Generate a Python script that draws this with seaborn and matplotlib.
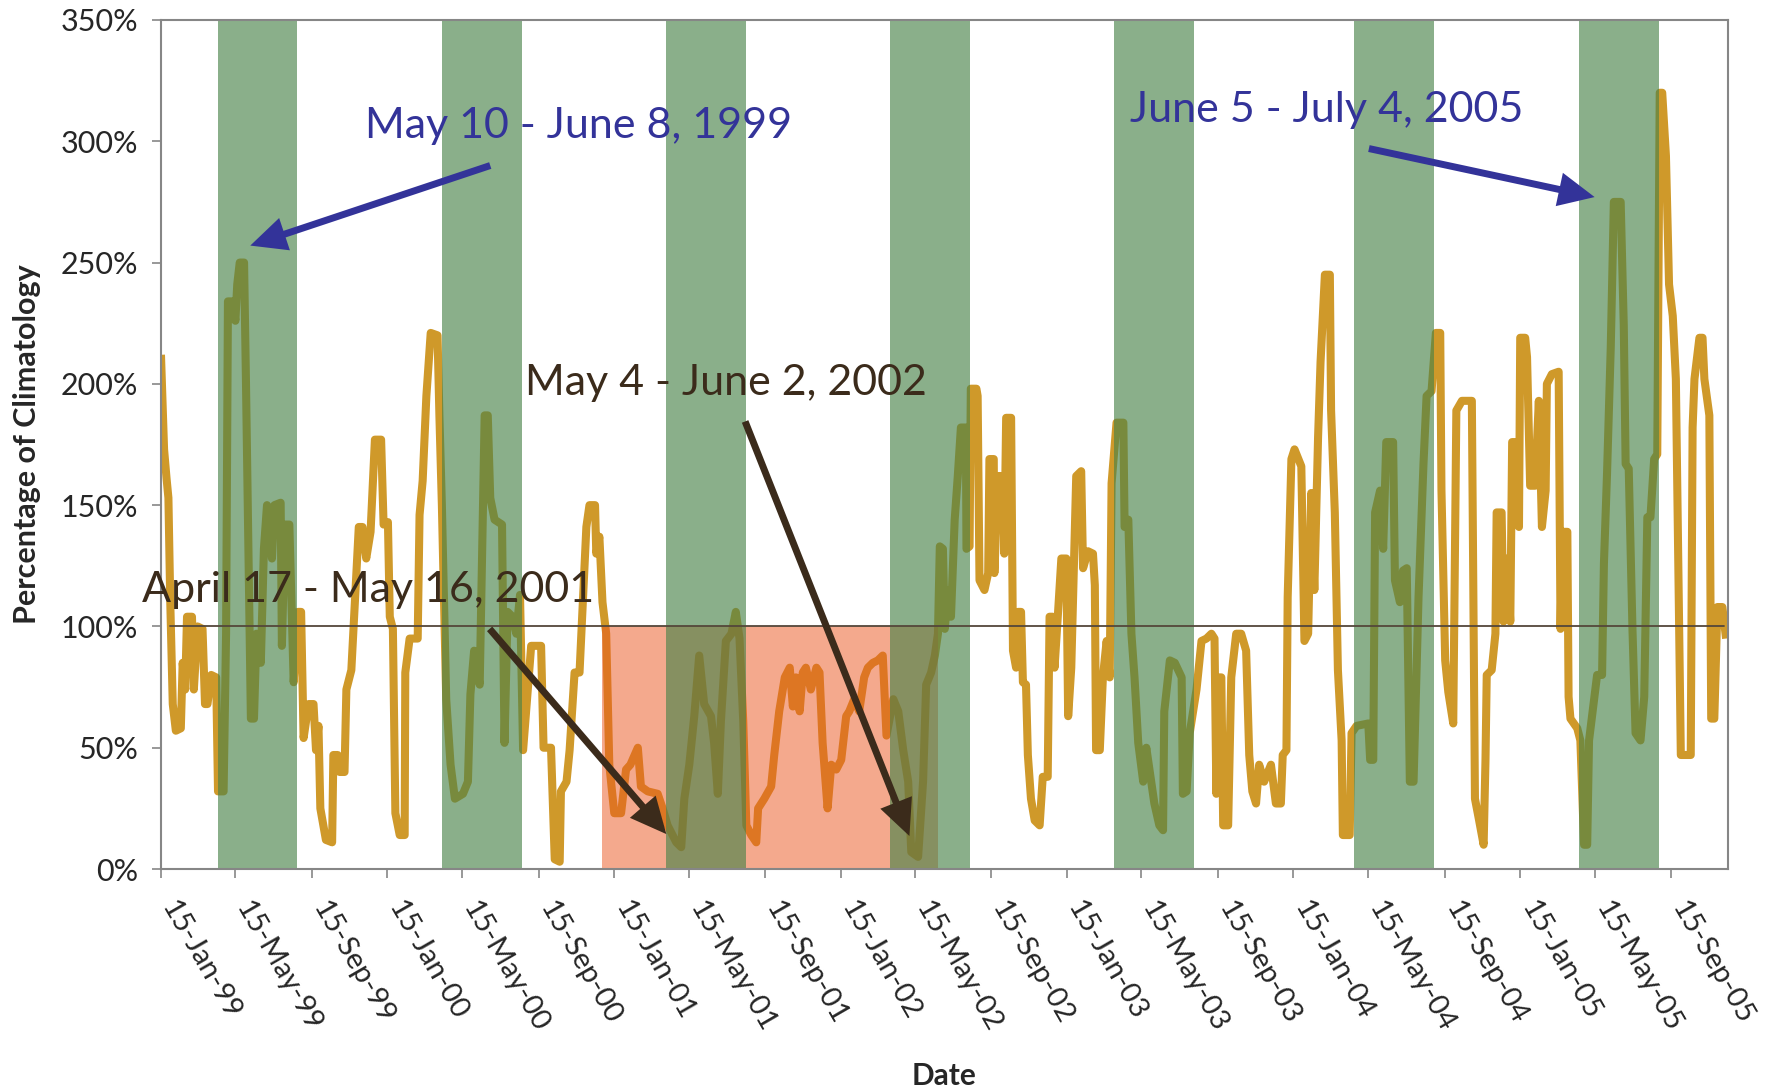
import pandas as pd
import matplotlib
matplotlib.use("Agg")
import matplotlib.pyplot as plt
import matplotlib.dates as mdates
from matplotlib.ticker import FuncFormatter
import seaborn as sns

# ---- 30-day precipitation as percentage of climatology ----
dates = [
    "1999-01-15", "1999-01-20", "1999-01-24", "1999-01-27", "1999-01-30", "1999-02-03", "1999-02-08",
    "1999-02-16", "1999-02-19", "1999-02-23", "1999-02-26", "1999-03-06", "1999-03-09", "1999-03-15",
    "1999-03-23", "1999-03-27", "1999-03-31", "1999-04-06", "1999-04-14", "1999-04-17", "1999-04-26",
    "1999-04-30", "1999-05-03", "1999-05-11", "1999-05-15", "1999-05-18", "1999-05-22", "1999-05-29",
    "1999-06-01", "1999-06-09", "1999-06-14", "1999-06-18", "1999-06-25", "1999-06-30", "1999-07-05",
    "1999-07-13", "1999-07-17", "1999-07-27", "1999-07-29", "1999-08-03", "1999-08-10", "1999-08-17",
    "1999-08-24", "1999-08-29", "1999-09-02", "1999-09-10", "1999-09-18", "1999-09-22", "1999-09-26",
    "1999-09-29", "1999-10-08", "1999-10-18", "1999-10-20", "1999-10-27", "1999-10-30", "1999-11-07",
    "1999-11-10", "1999-11-18", "1999-11-30", "1999-12-06", "1999-12-12", "1999-12-19", "1999-12-26",
    "2000-01-05", "2000-01-09", "2000-01-16", "2000-01-19", "2000-01-24", "2000-01-28", "2000-02-04",
    "2000-02-12", "2000-02-13", "2000-02-20", "2000-03-04", "2000-03-07", "2000-03-12", "2000-03-18",
    "2000-03-25", "2000-04-05", "2000-04-08", "2000-04-12", "2000-04-19", "2000-04-26", "2000-05-03",
    "2000-05-16", "2000-05-24", "2000-05-28", "2000-06-03", "2000-06-12", "2000-06-20", "2000-06-25",
    "2000-06-29", "2000-07-06", "2000-07-18", "2000-07-22", "2000-07-27", "2000-08-04", "2000-08-10",
    "2000-08-16", "2000-08-21", "2000-09-03", "2000-09-19", "2000-09-23", "2000-10-05",
    "2000-10-11", "2000-10-19", "2000-10-21", "2000-10-30", "2000-11-04", "2000-11-12", "2000-11-20",
    "2000-12-01", "2000-12-06", "2000-12-15", "2000-12-17", "2000-12-22", "2000-12-27", "2001-01-02",
    "2001-01-07", "2001-01-15", "2001-01-26", "2001-02-03", "2001-02-10", "2001-02-22", "2001-02-27",
    "2001-03-10", "2001-03-26", "2001-04-03", "2001-04-11", "2001-04-25", "2001-05-03", "2001-05-08",
    "2001-05-16", "2001-05-24", "2001-06-01", "2001-06-09", "2001-06-20", "2001-06-25", "2001-07-01",
    "2001-07-06", "2001-07-14", "2001-07-23", "2001-07-30", "2001-08-05", "2001-08-11", "2001-08-16",
    "2001-08-24", "2001-09-01", "2001-09-04", "2001-09-14", "2001-09-25", "2001-09-30", "2001-10-08",
    "2001-10-17", "2001-10-25", "2001-10-30", "2001-11-04", "2001-11-10", "2001-11-15", "2001-11-20",
    "2001-11-28", "2001-12-07", "2001-12-12", "2001-12-17", "2001-12-25", "2001-12-31", "2002-01-08",
    "2002-01-16", "2002-01-24", "2002-01-29", "2002-02-06", "2002-02-14", "2002-02-22", "2002-02-28",
    "2002-03-08", "2002-03-16", "2002-03-24", "2002-03-30", "2002-04-10", "2002-04-18", "2002-04-26",
    "2002-05-04", "2002-05-09", "2002-05-20", "2002-05-28", "2002-06-02", "2002-06-10", "2002-06-16",
    "2002-06-21", "2002-06-24",
    "2002-06-29", "2002-07-02", "2002-07-07", "2002-07-12", "2002-07-18", "2002-07-23", "2002-07-28",
    "2002-08-05", "2002-08-06", "2002-08-11", "2002-08-13", "2002-08-22", "2002-08-24", "2002-08-27",
    "2002-09-04", "2002-09-10", "2002-09-12", "2002-09-19", "2002-09-20", "2002-09-26", "2002-10-04",
    "2002-10-06", "2002-10-09", "2002-10-17", "2002-10-20", "2002-10-25", "2002-10-28", "2002-11-02",
    "2002-11-05", "2002-11-10", "2002-11-13", "2002-11-18", "2002-11-24", "2002-12-02", "2002-12-07",
    "2002-12-15", "2002-12-18", "2002-12-23", "2002-12-26", "2002-12-31", "2003-01-06", "2003-01-14",
    "2003-01-17", "2003-01-22", "2003-01-30", "2003-02-07", "2003-02-10", "2003-02-18", "2003-02-26",
    "2003-03-01", "2003-03-03", "2003-03-09", "2003-03-14", "2003-03-20", "2003-03-25", "2003-03-28",
    "2003-04-05", "2003-04-16", "2003-04-18", "2003-04-24", "2003-04-29", "2003-05-04", "2003-05-10",
    "2003-05-18", "2003-05-23", "2003-05-31", "2003-06-05", "2003-06-13", "2003-06-19", "2003-06-21",
    "2003-06-30", "2003-07-08", "2003-07-19", "2003-07-21", "2003-07-27", "2003-08-01", "2003-08-12",
    "2003-08-20", "2003-08-28", "2003-09-05", "2003-09-10", "2003-09-13", "2003-09-16", "2003-09-21",
    "2003-09-24", "2003-10-02", "2003-10-07", "2003-10-15", "2003-10-23", "2003-10-31", "2003-11-05",
    "2003-11-10", "2003-11-16", "2003-11-21", "2003-11-29", "2003-12-10", "2003-12-18", "2003-12-26",
    "2003-12-29", "2004-01-04", "2004-01-06", "2004-01-12", "2004-01-17", "2004-01-28", "2004-02-02",
    "2004-02-08", "2004-02-13", "2004-02-18", "2004-02-24", "2004-02-28", "2004-03-06", "2004-03-14",
    "2004-03-16", "2004-03-22", "2004-03-27", "2004-04-02", "2004-04-04", "2004-04-15", "2004-04-18",
    "2004-04-26", "2004-05-15", "2004-05-18", "2004-05-23", "2004-05-26", "2004-06-03", "2004-06-08",
    "2004-06-13", "2004-06-24", "2004-06-27", "2004-07-05", "2004-07-10", "2004-07-16", "2004-07-21",
    "2004-07-27", "2004-08-04", "2004-08-12", "2004-08-17", "2004-08-25", "2004-09-01", "2004-09-08",
    "2004-09-10", "2004-09-16", "2004-09-21", "2004-09-29", "2004-10-04", "2004-10-13", "2004-10-29",
    "2004-11-03", "2004-11-09", "2004-11-17", "2004-11-20", "2004-11-22", "2004-11-30", "2004-12-06",
    "2004-12-08", "2004-12-16", "2004-12-19", "2004-12-25", "2004-12-30", "2005-01-02", "2005-01-10",
    "2005-01-13", "2005-01-15", "2005-01-23", "2005-01-26", "2005-01-31", "2005-02-08", "2005-02-14",
    "2005-02-19", "2005-02-25", "2005-02-27", "2005-03-07", "2005-03-18", "2005-03-21", "2005-03-24",
    "2005-04-01", "2005-04-03", "2005-04-06", "2005-04-17", "2005-04-22", "2005-04-28", "2005-05-03",
    "2005-05-06", "2005-05-19", "2005-05-27", "2005-05-30", "2005-06-04", "2005-06-10", "2005-06-15",
    "2005-06-26", "2005-07-01", "2005-07-04", "2005-07-09", "2005-07-15", "2005-07-20", "2005-07-28",
    "2005-08-03", "2005-08-08", "2005-08-13", "2005-08-19", "2005-08-24", "2005-08-28", "2005-09-01",
    "2005-09-07", "2005-09-12", "2005-09-18", "2005-09-23", "2005-09-28", "2005-10-01", "2005-10-17",
    "2005-10-20", "2005-10-23", "2005-10-31", "2005-11-05", "2005-11-08", "2005-11-16", "2005-11-19",
    "2005-11-24", "2005-11-29", "2005-12-07", "2005-12-13",
]
pct = [
    212, 173, 161, 153, 110, 68, 57,
    58, 85, 74, 104, 104, 74, 100,
    99, 68, 68, 80, 79, 32, 32,
    97, 234, 234, 226, 241, 250, 250,
    202, 62, 62, 97, 85, 132, 150,
    128, 150, 151, 92, 142, 142, 77,
    106, 106, 54, 68, 68, 49, 59,
    25, 12, 11, 47, 47, 40, 40,
    74, 82, 141, 141, 128, 139, 177,
    177, 142, 143, 104, 99, 23, 14,
    14, 81, 95, 95, 146, 160, 195,
    221, 220, 187, 150, 70, 43, 29,
    31, 36, 72, 90, 76, 187, 187,
    153, 144, 142, 52, 106, 104, 97,
    113, 49, 92, 92, 50, 50,
    4, 3, 32, 36, 49, 81, 81,
    141, 150, 150, 130, 137, 110, 97,
    43, 23, 23, 41, 43, 50, 34,
    32, 31, 25, 18, 11, 9, 29,
    43, 63, 88, 68, 63, 52, 31,
    61, 94, 97, 106, 95, 61, 18,
    14, 11, 25, 29, 34, 47, 65,
    79, 83, 67, 79, 65, 81, 83,
    74, 83, 81, 52, 25, 43, 41,
    45, 63, 65, 70, 65, 79, 83,
    85, 86, 88, 55, 70, 65, 49,
    36, 7, 5, 36, 76, 81, 88,
    97, 133,
    132, 99, 115, 104, 144, 162, 182,
    182, 132, 133, 198, 198, 195, 119,
    115, 122, 169, 169, 122, 162, 162,
    130, 186, 186, 90, 83, 106, 106,
    77, 76, 47, 29, 20, 18, 38,
    38, 104, 104, 83, 103, 128, 128,
    63, 83, 162, 164, 124, 131, 130,
    117, 49, 49, 79, 94, 79, 159,
    184, 184, 141, 144, 97, 79, 52,
    36, 50, 36, 27, 18, 16, 65,
    86, 85, 79, 31, 32, 56, 74,
    94, 95, 97, 95, 31, 79, 79,
    18, 18, 79, 97, 97, 90, 47,
    32, 27, 43, 36, 43, 27, 27,
    47, 49, 112, 169, 173, 166, 94,
    97, 155, 115, 178, 209, 245, 245,
    189, 147, 82, 53, 14, 14, 56,
    59, 60, 45, 45, 147, 156, 132,
    176, 176, 119, 110, 123, 124, 36,
    36, 112, 167, 195, 197, 221, 221,
    156, 86, 73, 60, 189, 193, 193,
    29, 21, 10, 45, 80, 82, 97,
    147, 147, 102, 128, 102, 176, 176,
    141, 219, 219, 211, 158, 158, 193,
    141, 156, 200, 204, 205, 99, 139,
    139, 71, 62, 58, 53, 10, 10,
    53, 80, 80, 126, 163, 215, 275,
    275, 224, 167, 165, 99, 56, 53,
    71, 145, 145, 169, 171, 320, 320,
    294, 241, 228, 202, 106, 47, 47,
    182, 202, 219, 219, 202, 187, 62,
    62, 108, 108, 95,
]

# growing-season windows (green) and the drought period (salmon)
season_starts = ["1999-04-17", "2000-04-12", "2001-04-08", "2002-04-04",
                 "2003-04-01", "2004-04-22", "2005-04-20"]
season_ends = ["1999-08-23", "2000-08-19", "2001-08-16", "2002-08-11",
               "2003-08-08", "2004-08-29", "2005-08-27"]
drought_start, drought_end = "2000-12-26", "2002-06-21"
normal_level = 100
normal_span = ["1999-01-29", "2005-12-10"]

tick_dates = [pd.Timestamp(y, m, 15) for y in range(1999, 2006) for m in (1, 5, 9)]
y_ticks = [0, 50, 100, 150, 200, 250, 300, 350]

BLUE = "#333399"
BROWN = "#3B2B1B"
# label, colour, text anchor (axes fraction, baseline), arrow tail (date, %), arrow tip (date, %)
notes = [
    ("May 10 - June 8, 1999", BLUE, (0.2668, 0.861), ("2000-06-29", 290), ("1999-06-08", 257)),
    ("June 5 - July 4, 2005", BLUE, (0.744, 0.880), ("2004-05-16", 297), ("2005-05-15", 277)),
    ("May 4 - June 2, 2002", BROWN, (0.3606, 0.5583), ("2001-08-14", 184.5), ("2002-05-06", 13.6)),
    ("April 17 - May 16, 2001", BROWN, (0.1324, 0.3148), ("2000-06-28", 99), ("2001-04-09", 14.4)),
]

sns.set_theme(style="white")
plt.rcParams["font.family"] = ["Lato", "DejaVu Sans"]

fig = plt.figure(figsize=(17.67, 10.92), dpi=100)
ax = fig.add_axes([0.0911, 0.2042, 0.8868, 0.7775])

df = pd.DataFrame({"Date": pd.to_datetime(dates), "Percent": pct})
sns.lineplot(data=df, x="Date", y="Percent", ax=ax, color="#CF992A", linewidth=5.8,
             solid_capstyle="butt", estimator=None, zorder=2)

ax.fill_between(pd.to_datetime([drought_start, drought_end]), 0, normal_level,
                color="#EB551D", alpha=0.5, lw=0, zorder=3)
for s, e in zip(season_starts, season_ends):
    ax.axvspan(pd.Timestamp(s), pd.Timestamp(e), color="#488248", alpha=0.64, lw=0, zorder=4)
ax.plot(pd.to_datetime(normal_span), [normal_level, normal_level], color="#54473A", lw=1.3, zorder=5)

ax.set_xlim(pd.Timestamp("1999-01-15"), pd.Timestamp("2005-12-16"))
ax.set_ylim(0, 350)
ax.set_xticks(tick_dates)
ax.xaxis.set_major_formatter(mdates.DateFormatter("%d-%b-%y"))
ax.set_yticks(y_ticks)
ax.yaxis.set_major_formatter(FuncFormatter(lambda v, _: f"{v:.0f}%"))

ax.tick_params(axis="both", which="major", direction="out", length=6.5, width=1.2,
               color="#868686", bottom=True, left=True)
ax.tick_params(axis="y", labelsize=22, pad=10)
ax.tick_params(axis="x", labelsize=21, pad=21)
for lab in ax.get_xticklabels():
    lab.set_rotation(-60)
    lab.set_rotation_mode("anchor")
    lab.set_ha("left")
    lab.set_va("baseline")

for sp in ax.spines.values():
    sp.set_visible(True)
    sp.set_color("#868686")
    sp.set_linewidth(1.5)
    sp.set_zorder(6)

ax.set_xlabel("Date", fontsize=21.5, fontweight="bold")
ax.set_ylabel("Percentage of Climatology", fontsize=22, fontweight="bold")
ax.xaxis.set_label_coords(0.5, -0.244)
ax.yaxis.set_label_coords(-0.0857, 0.5)
ax.xaxis.label.set_va("center")
ax.yaxis.label.set_va("center")

for text, col, (tx, ty), tail, tip in notes:
    ax.text(tx, ty, text, transform=ax.transAxes, ha="center", va="baseline",
            fontsize=31, color=col, zorder=8)
    ax.annotate("", xy=(mdates.date2num(pd.Timestamp(tip[0])), tip[1]),
                xytext=(mdates.date2num(pd.Timestamp(tail[0])), tail[1]),
                xycoords="data", textcoords="data",
                arrowprops=dict(arrowstyle="simple,head_length=26,head_width=24.5,tail_width=5",
                                mutation_scale=1, color=col, lw=0, shrinkA=0, shrinkB=0),
                zorder=8)

fig.savefig("out.png", dpi=100)
